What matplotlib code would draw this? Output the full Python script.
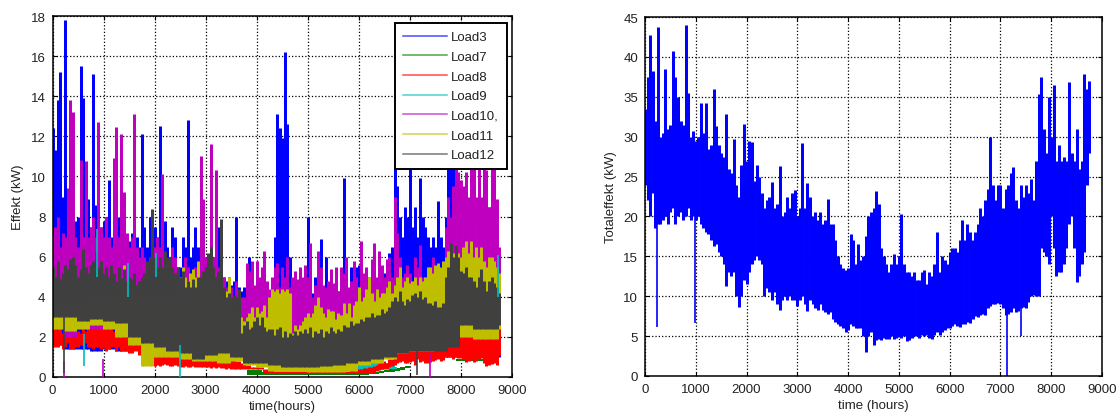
import numpy as np
import matplotlib
matplotlib.use('Agg')
import matplotlib.pyplot as plt

plt.rcParams['font.family'] = ['Liberation Sans', 'DejaVu Sans']
plt.rcParams['font.size'] = 9.5
plt.rcParams['text.color'] = '#222222'
plt.rcParams['axes.labelcolor'] = '#222222'
plt.rcParams['xtick.labelcolor'] = '#222222'
plt.rcParams['ytick.labelcolor'] = '#222222'

# hourly envelopes, one value every 50 hours (0..8750)
hours = np.arange(0, 8751, 50)

load3_hi = [12.4,11.3,13.8,15.2,9,17.8,8,7.5,7,7.8,8,15.5,13.9,8.5,8.9,7.5,15.1,8.6,8,7.5,
    7.8,8,9.8,7,8,7.5,8,7,8.9,7,6.8,7.2,8.5,7,6.5,12.1,7.5,6.5,8,6.8,
    7.5,7,12.5,7.5,7.8,6.5,6,7.5,7,5.5,5.5,7,6.5,12.8,6,6.5,7.5,6.5,6,8,
    6,5.8,7,6,5.6,7.5,5,5,4.8,5,4.6,4.8,8,4.5,4.3,4.5,4.4,6,4,4.2,
    4.8,4.5,4,5.5,3.9,4,4.5,7,13.1,12.4,11.9,16.2,12.6,6,4,4,4.2,4.5,4.3,5,
    8,4.5,4.2,5,4.8,6.9,4.5,6,4.3,4.5,4.4,5,4.3,4.5,9.9,4.5,4.4,5.5,5,5.5,
    5.6,4.5,4.6,5,4.8,5,5.2,4.8,5,5,5.2,5.5,6.2,6.5,10.5,9.5,8,7,8.5,8,
    11,7.5,8.5,7,9.9,8,7.5,7,6.5,7,6.5,8.8,7,6.5,8,11,10.5,11,9,8.5,
    8,7.5,8,7.5,8,7.5,7,8,7.5,9.9,8,8.5,7,6.5,6,5.5]

load10_hi = [7,7.5,8,6.5,7.2,7,9.4,13.8,13.2,7,6.5,10.8,7,10.75,7,7.5,8,7,12.7,7.5,
    7,8,7,6.5,10.9,12.45,7,12.1,9.2,7.2,6.5,7,13.1,6.5,6,6.5,6,5.5,6,6,
    6.5,7,6.5,10.1,6,5.5,6,6.5,6,5.5,5,5.5,6,5.5,5,5,5.5,5.5,11,8.9,
    6,6,11.6,6,10.3,5.5,5,5,4.5,4.8,4.5,4,4.8,4.3,4,4,5.7,5.3,5.8,4.6,
    5.8,5,5.5,6.3,4.8,4.4,5,5.5,5.7,4.5,5.5,5,6,4.5,5,5.3,4.9,5.5,5,5.6,
    5,6.7,4,4.6,6.3,5.5,4.6,4.5,4.8,5.4,4.7,5.5,4.3,5.5,5.2,6,4.5,4.8,5.8,5,
    4.5,6.8,5.2,5.5,5,5.9,6.7,5,6.3,5.6,5,5.9,6,5,9,7.2,6,5,5.2,5.6,
    5.2,4.8,6,5.5,6.6,5,5,5.5,4.9,6,5.4,5.5,5,5.5,7.5,9,8,9.5,11,10.2,
    9.8,9.5,10.2,9,10.8,10.5,9,11,9,11,10.3,8.5,10.8,10.8,8.9,6.5]

load11_hi = [3.2,3.5,3.8,3.3,3.6,3.9,3.5,3.7,4,3.8,3.6,4,3.8,3.4,3.6,3.8,3.9,4,3.7,4,
    3.8,4,3.7,4,4.2,4,4.5,5,5.6,4.5,3.8,4.2,3.5,3.8,4,3.8,3.6,3.8,4,4.5,
    4,3.8,4,3.6,3.8,4,4.3,3.8,4,4.5,5,5.5,5,4.8,5.2,5.4,5,5.8,4.8,5,
    5.2,5,5.5,4.8,4.5,4.2,4,3.8,4.3,5,3.6,3.2,3.2,3.5,3,2.8,3,3.2,3.5,3,
    3.5,3.2,3.3,3.6,3,4,4.4,4.3,4.4,4.2,4.4,4.3,4.4,4.2,2.2,2.6,2.4,2.6,2.8,3,
    3.2,3,3.2,3.6,4,3.5,3.2,3,3.4,3.3,3.3,2.9,3.2,3.1,3.7,3.2,3.7,3,3.6,3.8,
    4.5,3.8,4,4.4,5,4.2,3.8,4.4,4,4.2,4.2,4.5,4.8,4.2,4.6,5,5.5,4.5,4.8,5,
    4.7,4.8,5,4.6,5,4.8,5,5.5,5.5,5.2,5.6,5.7,5.5,5.8,6,6.3,6.5,6.2,6.5,6.2,
    6,6.5,6.8,6.2,6.8,6,6.5,6,6.5,5.8,5.5,6,6,5.8,5.5,5.2]

load12_hi = [5.5,5,5.8,4.9,5.2,5.6,5.4,5.9,6,5.6,5,5.4,6.4,5.5,5.2,5.6,5.8,6.3,5.5,5.8,
    5.2,5.5,5,5.6,5.2,4.8,5.5,5,5.4,4.8,5,4.9,5.2,4.6,4.8,5,5.2,5.8,6,8.4,
    6,5.5,6,5.5,6.3,6,6,5.5,5.2,5.5,5,5.3,4.5,4.8,4.5,4.9,4.5,5,5,5.3,
    5.5,6.2,6.5,5.5,5,5.3,7.9,4.5,4,4.2,4,4.1,4,4.4,2.2,2.6,2.8,2.4,2.5,2.8,
    3,2.6,3,2.5,2.3,2.4,2.4,2.1,2.4,2.5,2,2.3,2,2.2,2.1,2.3,2.1,2.3,2.2,2.4,
    2.2,2.5,2,2.3,2.2,2.4,2,2.3,2.2,2.5,2.3,2.2,2.4,2.3,2.6,2.5,2.5,2.8,2.6,2.7,
    2.7,2.9,2.8,3,3,3.2,3,3.1,3.1,3.4,3.2,3.3,3.5,3.8,4,3.8,4.3,3.8,3.6,3.9,
    3.8,4.1,4.2,4,4.3,3.9,4,3.7,3.7,3.6,3.8,3.5,3.5,3.7,5,5.5,6.7,6,6.6,6,
    5.3,5.2,5.5,5,5,4.8,4.5,5,5.4,4.8,4.3,4.8,5,4.7,4.5,4.2]

load8_hi = [2.2,2.5,2.8,2.6,2.2,2.5,2.4,2.3,2.4,2.5,2.3,2.2,2.4,2.3,2.6,2.4,3.2,3,2.8,2.5,
    2.6,2.8,2.6,2.4,2.3,2.5,2.3,2.2,2.1,2,1.9,1.8,1.7,1.6,1.6,1.5,1.5,1.4,1.2,1.3,
    1.3,1.3,1.2,1.2,1.1,1.1,1.1,1,1,1,1,1,1,0.95,1,1,1,1,1,1,
    1,1,0.95,0.95,0.9,0.9,0.85,0.85,0.9,0.85,0.85,0.85,0.8,0.8,0.7,0.7,0.6,0.6,0.5,0.5,
    0.5,0.5,0.5,0.4,0.4,0.4,0.4,0.3,0.3,0.3,0.3,0.3,0.3,0.3,0.3,0.3,0.3,0.3,0.3,0.3,
    0.3,0.3,0.3,0.3,0.3,0.3,0.3,0.3,0.3,0.3,0.3,0.3,0.3,0.3,0.3,0.3,0.3,0.35,0.4,0.4,
    0.4,0.4,0.45,0.45,0.5,0.5,0.55,0.6,0.7,0.8,0.8,0.7,0.9,0.9,1.2,1.5,1.7,2,1.9,2,
    1.9,2,1.8,2,1.9,1.9,2,1.8,2,1.9,2,1.9,2,2.2,2.3,2.5,2.4,2.5,2.3,2.4,
    2.3,2.4,2.5,2.3,2.4,2.2,2.4,2.3,2.4,2.2,2.3,2.4,2.5,2.4,2.6,2.5]

load8_lo = [1.7,1.5,1.5,1.6,1.4,1.5,1.7,1.4,1.4,1.5,1.5,1.6,1.6,1.7,1.5,1.5,1.4,1.5,1.5,1.4,
    1.45,1.3,1.4,1.5,1.5,1.3,1.5,1.3,1.3,1.3,1.2,1.2,1.3,1.3,1.1,1.1,1,0.9,0.7,0.6,
    0.55,0.6,0.55,0.6,0.65,0.6,0.55,0.55,0.6,0.55,0.5,0.5,0.55,0.5,0.5,0.55,0.5,0.5,0.5,0.5,
    0.5,0.5,0.45,0.5,0.45,0.5,0.45,0.45,0.4,0.45,0.4,0.4,0.4,0.4,0.4,0.4,0.4,0.4,0.4,0.4,
    0.4,0.4,0.4,0.2,0.2,0.2,0.2,0.2,0.2,0.2,0.2,0.2,0.2,0.2,0.2,0.2,0.2,0.2,0.2,0.2,
    0.2,0.2,0.2,0.2,0.2,0.2,0.2,0.2,0.2,0.2,0.2,0.2,0.2,0.2,0.2,0.2,0.2,0.2,0.2,0.2,
    0.2,0.2,0.2,0.2,0.2,0.2,0.2,0.3,0.35,0.4,0.4,0.4,0.5,0.55,0.6,0.7,0.75,0.8,0.7,0.7,
    0.75,0.8,0.6,0.9,0.75,0.8,0.7,0.7,0.75,0.8,0.85,0.9,0.8,0.85,1,1,1,0.9,1,0.95,
    0.95,0.9,0.75,0.8,0.85,0.75,0.8,0.9,0.95,0.7,0.55,0.6,0.65,0.7,0.6,1.1]

# lower edges change slowly, one value every 250 hours
load3_lo = [1.6,1.4,1.4,1.3,1.4,1.3,1.4,1.3,1,1,1,1,1,1,1,1,1,1,1,1,1,1,1,1,1,1,1,1,1,1,1,1,1,1,1,1]
load10_lo = [2.4,2,2.4,2.4,2.4,2,1.7,1.2,1,1,1,0.9,0.9,0.9,0.9,0.8,0.7,0.7,0.7,0.6,0.6,0.6,0.7,0.7,0.8,0.9,1.2,1.3,1.3,1.3,1.5,1.6,2.5,2.4,2.4,2.6]
load11_lo = [2.4,2.3,2.4,2.6,2.4,2,1.6,0.55,1,1,0.9,0.8,0.8,0.7,0.8,0.6,0.5,0.3,0.3,0.3,0.25,0.25,0.25,0.3,0.6,0.7,0.9,1.2,1.3,1.3,1.5,1.9,2,1.9,1.9,2.4]
load12_lo = [3,3,2.8,2.9,2.8,2.7,2,1.7,1.5,1.3,1.2,0.9,1.1,1.2,1,0.7,0.7,0.6,0.5,0.5,0.5,0.55,0.6,0.7,0.8,0.9,1,1.2,1.3,1.3,1.3,1.5,2.6,2.4,2.4,2.6]

# green and cyan only show over part of the year
load7_hours = [3800,3900,4000,4100,4200,4400,4600,4800,5000,5200,5400,5600,5800,6000,6200,6400,6500,6600,6700,6800,6900,7000,7300,7600,7900,8150,8300,8500,8650,8750]
load7_hi = [0.35,0.35,0.35,0.25,0.2,0.2,0.2,0.2,0.2,0.2,0.2,0.2,0.2,0.25,0.25,0.3,0.35,0.4,0.45,0.5,0.55,0.7,0.7,0.7,0.9,0.95,0.9,0.8,1.9,1.9]
load7_lo = [0.1,0.1,0.1,0.1,0.1,0.1,0.1,0.1,0.1,0.1,0.1,0.1,0.1,0.1,0.15,0.2,0.25,0.25,0.3,0.35,0.45,0.7,0.7,0.7,0.8,0.8,0.8,0.7,1.2,1.2]

load9_hours = [5800,5900,6000,6100,6200,6300,6400,6500,6600,6700,6750,7700,7800,7900,8000,8100,8200,8300,8400,8500,8600,8700,8750]
load9_hi = [0.5,0.6,0.85,0.8,0.75,0.7,0.85,0.7,0.6,0.5,0.5,1.6,2.4,1.5,1.4,1.5,1,2.2,1.6,1,1.2,1.9,1.9]
load9_lo = [0.3,0.3,0.3,0.3,0.3,0.35,0.35,0.4,0.4,0.4,0.5,1.2,1.2,1.1,1.1,1,0.9,1.2,1.2,0.8,0.8,1.2,1.2]

# single dropouts and peaks that stick out of the bands
load9_dip_hours = [625,2500,880,1470,2030,8720]
load9_dip_lo = [0.55,0,5,4,5,4]
load9_dip_hi = [2.15,1.6,7.4,5.7,6.2,6.1]
load10_dip_hours = [230,990,7400]
load10_dip_lo = [0,0,0]
load10_dip_hi = [0.8,0.9,1.2]
load12_dip_hours = [225,7130]
load12_dip_lo = [0.2,0.1]
load12_dip_hi = [3,1.5]

total_hi = [33.5,37.5,42.8,38.2,32,43.7,30,30.4,38.5,31,31.5,40.8,37.5,35,32,31.5,44,35.5,30,30.7,
    29.5,30,34.2,30.5,34.2,28.5,29,36,31.3,29,28,27.5,32.9,26,25.5,29.7,24,22.5,26.5,31.6,
    27,29.5,29.3,24.5,26.5,25,23,21,22,22.5,24.3,21,21.5,26.3,20,20.5,22.5,21,23,23.3,
    20,21,29.2,21,24.2,22.5,20,20.5,19.5,20.5,19,19.5,22.2,19,19,17,15,14,13.5,13.3,
    13.5,17.8,17,14,16.5,14.5,15,17.5,20,20.5,21,23.2,21.5,16,15,14,13,14,15.3,14,
    15,20.3,14,13,13,12.5,13,12,12,13,13.3,11.5,13,12.5,14,18,13,15,14.5,14,
    15.5,16,16,15.5,17,19.5,17,19,18,17,18,19,21,20,22,23.5,30,24,22,24,
    24,21,23.5,24,25.5,26.2,22,21,24,22.5,24,23,24.7,22,27,35.3,37.5,31,28,35,
    30,36.5,27,29,27,27.5,27,36.8,28,27,31,26,27,37.8,36,37]

total_lo = [24,22,20,23,18.5,19,19,19.5,20,19,20.5,21,19,20,20.5,19.5,20,21,19.5,20,
    19.5,20,19,18.5,18,17.8,17,16.3,16.5,15.5,15,14,11.3,13,12.5,13,10,8.6,10,12,
    11.5,13,14,14.5,15,14.5,14,10,11,10.5,9.5,10.5,9,8.3,9.5,10,9.5,10,9.5,9.5,
    8.8,9.5,10,9,8.2,9.5,9,8.5,8.3,9,8.3,8,7.8,8,7.2,6.8,6.5,6.3,6,5.5,
    5.8,6.5,6.3,6,6,6,5,3,5,5.5,3.9,4.5,4.6,4.5,4.8,4.7,4.6,5,4.7,4.8,
    4.9,4.8,5,4.4,4.5,4.8,5,5,4.8,5.1,5,5.2,4.8,4.6,5.2,5.5,5.2,5.5,5.8,6,
    6,6.3,6.5,6.3,6.2,6.5,6.5,6.8,6.7,7.2,7.5,7.4,7.7,7.8,7.7,8.5,8.8,9,9,9.2,
    9,8.5,7.7,7.8,8,8.5,8,8.2,8.5,8.6,8.5,9.3,10,10.2,10,10,16,15.5,15,14,
    20,16,12.5,13,13,14,16,19,20,16,11.8,12.5,14,15.5,24,28]

total_dip_hours = [230,980,7120,7400]
total_dip_lo = [6.1,6.7,0,5]
total_dip_hi = [20,20,8,9]

# colours
c_blue = (0, 0, 1)
c_green = (0, 0.5, 0)
c_red = (1, 0, 0)
c_cyan = (0, 0.75, 0.75)
c_magenta = (0.75, 0, 0.75)
c_yellow = (0.75, 0.75, 0)
c_grey = (0.25, 0.25, 0.25)

W, H = 1117, 414
BAND_LW = 2.15


def band(ax, x, lo, hi, color, label=None):
    ax.vlines(x, lo, hi, color=color, lw=BAND_LW, capstyle='butt')
    if label:
        ax.plot([], [], color=color, lw=1.1, alpha=0.7, label=label)


def strip(ax, x, lo, hi, color, label):
    ax.fill_between(x, lo, hi, step='post', color=color, linewidth=0)
    ax.plot([], [], color=color, lw=1.1, alpha=0.7, label=label)


def coarse(lo):
    return np.repeat(lo, 5)[:len(hours)]


def style(ax, ymax, ystep):
    ax.set_xlim(0, 9000)
    ax.set_ylim(0, ymax)
    ax.set_xticks(np.arange(0, 9001, 1000))
    ax.set_yticks(np.arange(0, ymax + 1, ystep))
    ax.tick_params(direction='in', length=3, width=0.8, top=True, right=True, pad=5)
    ax.grid(True, color='k', linestyle=':', linewidth=0.9)
    ax.set_axisbelow(True)
    for s in ax.spines.values():
        s.set_linewidth(1.1)


fig = plt.figure(figsize=(W / 100, H / 100), dpi=100)
ax1 = fig.add_axes([52.5 / W, (H - 378) / H, 459.5 / W, 361 / H])
ax2 = fig.add_axes([645 / W, (H - 377) / H, 457 / W, 359 / H])

band(ax1, hours, coarse(load3_lo), load3_hi, c_blue, 'Load3')
strip(ax1, load7_hours, load7_lo, load7_hi, c_green, 'Load7')
band(ax1, hours, load8_lo, load8_hi, c_red, 'Load8')
strip(ax1, load9_hours, load9_lo, load9_hi, c_cyan, 'Load9')
band(ax1, hours, coarse(load10_lo), load10_hi, c_magenta, 'Load10,')
band(ax1, hours, coarse(load11_lo), load11_hi, c_yellow, 'Load11')
band(ax1, hours, coarse(load12_lo), load12_hi, c_grey, 'Load12')
ax1.vlines(load9_dip_hours, load9_dip_lo, load9_dip_hi, color=c_cyan, lw=1.2, zorder=5)
ax1.vlines(load10_dip_hours, load10_dip_lo, load10_dip_hi, color=c_magenta, lw=1.2, zorder=5)
ax1.vlines(load12_dip_hours, load12_dip_lo, load12_dip_hi, color=c_grey, lw=1.2, zorder=5)
style(ax1, 18, 2)
ax1.set_xlabel('time(hours)', labelpad=3)
ax1.set_ylabel('Effekt (kW)', labelpad=4.5)
leg = ax1.legend(loc='upper right', bbox_to_anchor=(507 / W, (H - 24) / H),
                 bbox_transform=fig.transFigure, borderaxespad=0, fancybox=False,
                 framealpha=1, edgecolor='k', labelspacing=0.56,
                 handlelength=3.35, handletextpad=0.3, borderpad=0.62)
leg.get_frame().set_linewidth(1.4)

band(ax2, hours, total_lo, total_hi, c_blue)
ax2.vlines(total_dip_hours, total_dip_lo, total_dip_hi, color=c_blue, lw=1.2)
style(ax2, 45, 5)
ax2.set_xlabel('time (hours)', labelpad=3)
ax2.set_ylabel('Totaleffekt (kW)', labelpad=4.5)

fig.savefig('out.png', dpi=100)
